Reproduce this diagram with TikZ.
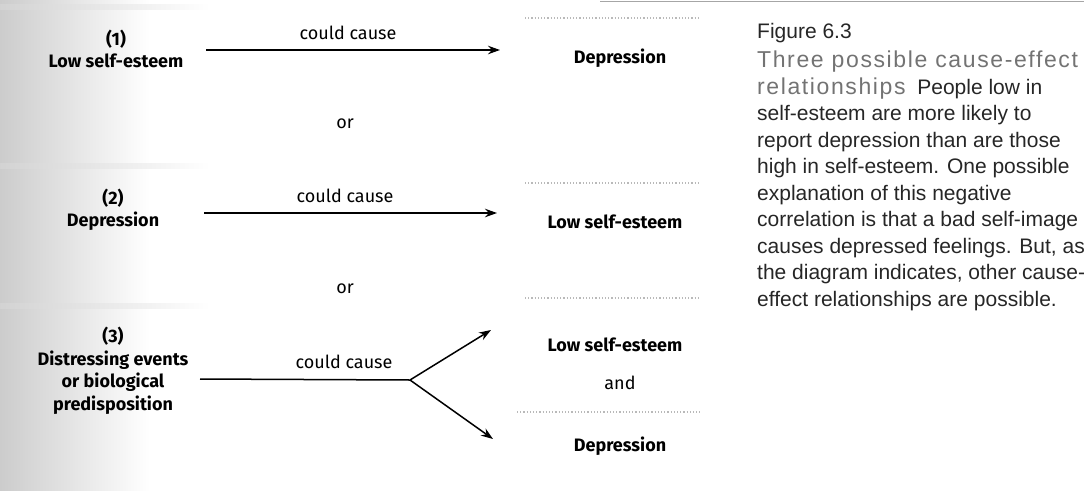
\documentclass[tikz,border=0pt]{standalone}
\usepackage{fontspec}
\setmainfont{Fira Sans}
\newfontfamily\capfont{Liberation Sans}
\newfontfamily\headfont[LetterSpace=7]{Liberation Sans}
\usetikzlibrary{arrows.meta}
\tikzset{
  lbl/.style={font=\fontsize{18}{22.5}\selectfont\bfseries, align=center, inner sep=0pt},
  plain/.style={font=\fontsize{18}{22}\selectfont, inner sep=0pt},
  conn/.style={line width=1.5pt, -{Stealth[length=12pt,width=8.5pt]}},
  noarr/.style={line width=1.5pt},
  rule/.style={gray!55, line width=1.2pt, dotted},
  capline/.style={font=\capfont\fontsize{21}{26.5}\selectfont, text=black!85, anchor=base west, inner sep=0pt},
  head/.style={font=\headfont\fontsize{23}{26.5}\selectfont, text=black!55}
}
\begin{document}
\begin{tikzpicture}[x=1pt,y=-1pt]
\useasboundingbox (0,0) rectangle (1084,490);
% halftone-like background at left
\shade[left color=gray!40, right color=white] (0,0) rectangle (150,490);
\shade[left color=gray!35, right color=white] (0,4) rectangle (210,9);
\shade[left color=gray!35, right color=white] (0,163) rectangle (210,168);
\shade[left color=gray!35, right color=white] (0,303) rectangle (210,308);
\draw[gray!70, line width=1pt] (600,1) -- (1084,1);
% thin rules above the right-hand nodes
\draw[rule] (525,18) -- (700,18);
\draw[rule] (525,183) -- (700,183);
\draw[rule] (525,298) -- (700,298);
\draw[rule] (517,412) -- (700,412);

% row 1
\node[lbl] (l1) at (116,49) {(1)\\Low self-esteem};
\node[lbl] (r1) at (620,58) {Depression};
\coordinate (s1) at (206,50);
\coordinate (e1) at (500,50);
\draw[conn] (s1) -- (e1);
\node[plain] (c1) at (348,33) {could cause};
\node[plain] (or1) at (345,124) {or};

% row 2
\node[lbl] (l2) at (113,210) {(2)\\Depression};
\node[lbl] (r2) at (615,222) {Low self-esteem};
\coordinate (s2) at (204,213);
\coordinate (e2) at (497,213);
\draw[conn] (s2) -- (e2);
\node[plain] (c2) at (345,196) {could cause};
\node[plain] (or2) at (345,289) {or};

% row 3
\node[lbl] (l3) at (113,371) {(3)\\Distressing events\\or biological\\predisposition};
\coordinate (s3) at (200,379);
\coordinate (b3) at (410,380);
\coordinate (e3a) at (491,330);
\coordinate (e3b) at (493,439);
\draw[noarr] (s3) -- (b3);
\draw[conn] (b3) -- (e3a);
\draw[conn] (b3) -- (e3b);
\node[plain] (c3) at (344,362) {could cause};
\node[lbl] (r3a) at (615,345) {Low self-esteem};
\node[plain] (and) at (620,383) {and};
\node[lbl] (r3b) at (620,446) {Depression};

% caption
\node[capline] (fig) at (757,38) {Figure 6.3};
\node[capline, head] (cap1) at (757,67.5) {Three possible cause-effect};
\node[capline] (cap2) at (757,94) {{\headfont\fontsize{23}{26.5}\selectfont\color{black!55}relationships}\ \ People low in};
\node[capline] (cap3) at (757,120.5) {self-esteem are more likely to};
\node[capline] (cap4) at (757,147) {report depression than are those};
\node[capline] (cap5) at (757,173.5) {high in self-esteem. One possible};
\node[capline] (cap6) at (757,200) {explanation of this negative};
\node[capline] (cap7) at (757,226.5) {correlation is that a bad self-image};
\node[capline] (cap8) at (757,253) {causes depressed feelings. But, as};
\node[capline] (cap9) at (757,279.5) {the diagram indicates, other cause-};
\node[capline] (cap10) at (757,306) {effect relationships are possible.};
\end{tikzpicture}
\end{document}
